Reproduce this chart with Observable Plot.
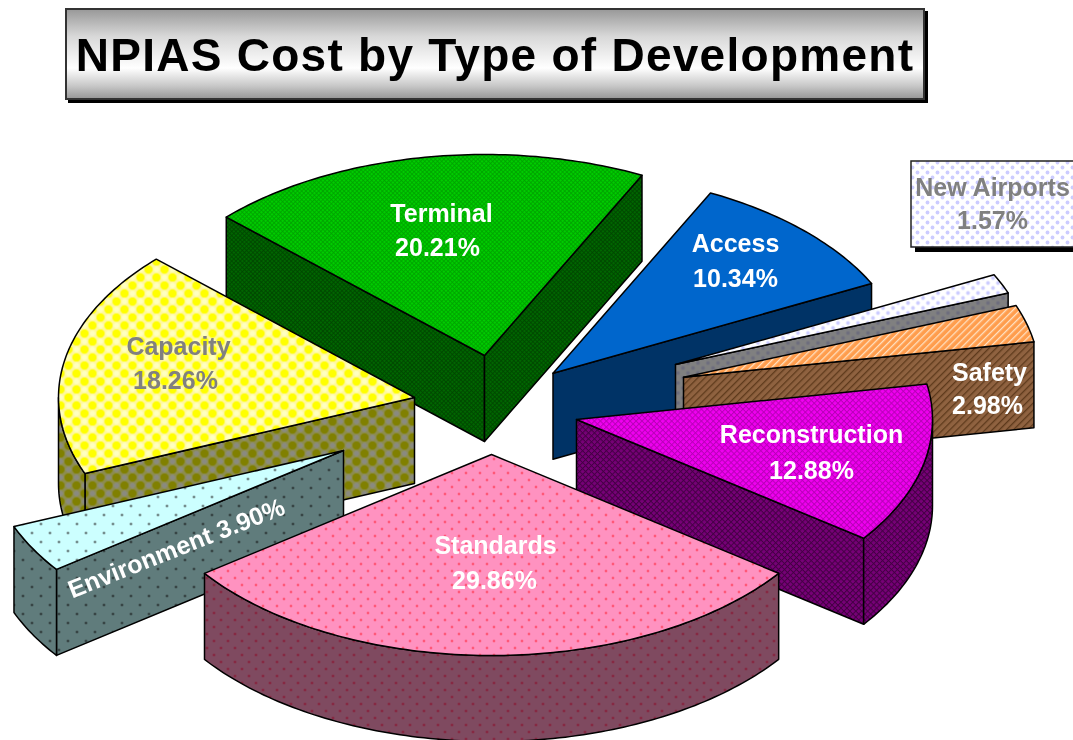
<!DOCTYPE html>
<html>
<head>
<meta charset="utf-8">
<script src="https://cdn.jsdelivr.net/npm/d3@7"></script>
<script src="https://cdn.jsdelivr.net/npm/@observablehq/plot@0.6"></script>
<style>
html,body{margin:0;padding:0;background:#fff;overflow:hidden}
#title{position:absolute;left:65px;top:8px;height:88px;border:2px solid #333;box-sizing:content-box;
 width:856px;background:linear-gradient(180deg,#9a9a9a 0%,#d8d8d8 30%,#ffffff 66%,#c8c8c8 86%,#9a9a9a 100%);
 box-shadow:3px 3px 0 #000;font:bold 46px "Liberation Sans",Arial,sans-serif;color:#000;text-align:center;line-height:90px;letter-spacing:1.27px;white-space:nowrap;filter:blur(.35px)}
#chart{position:absolute;left:0;top:105px;filter:blur(.35px)}
</style>
</head>
<body>
<div id="title">NPIAS Cost by Type of Development</div>
<div id="chart"></div>
<script>
// ---- data ----
const categories = ["Terminal","Access","New Airports","Safety","Reconstruction","Standards","Environment","Capacity"];
const percents   = [20.21,10.34,1.57,2.98,12.88,29.86,3.90,18.26];

// ---- layout ----
const startAngle = -46.5, rx = 356, ry = 201, depth = 86, pieX = 490, pieY = 400;
const explodeX = [-6,62.5,185,193,86,1,-147,-76];
const explodeY = [-45,-27.3,-36,-23.3,19,54,50,-3];
const topFills  = ["url(#pTerminal)","#0066cc","url(#pAirports)","url(#pSafety)","url(#pRecon)","url(#pStandards)","url(#pEnv)","url(#pCapacity)"];
const wallFills = ["url(#wTerminal)","#003366","url(#wAirports)","url(#wSafety)","url(#wRecon)","url(#wStandards)","url(#wEnv)","url(#wCapacity)"];
const paintOrder = [0,1,2,3,7,4,6,5];
const nameX = [441,735,992,989,811,495,176,178];
const nameY = [213,243,187,372,434,545,548,346];
const pctX  = [437,735,992,987,811,494,176,175];
const pctY  = [247,278,220,405,470,580,548,380];
const textColors = ["#fff","#fff","#808080","#fff","#fff","#fff","#fff","#808080"];
const airportsBox = {x1:911,x2:1080,y1:161,y2:247};

// ---- geometry from the values ----
const rad = d => d*Math.PI/180;
let cum = startAngle;
const slices = percents.map((p,i)=>{
  const a0 = cum, a1 = cum + p*3.6; cum = a1;
  return {i,a0,a1,ax:pieX+explodeX[i],ay:pieY+explodeY[i]};
});
const rim = (s,a,dz=0)=>({x:s.ax+rx*Math.sin(rad(a)),y:s.ay-ry*Math.cos(rad(a))+dz});
const arc = (s,a0,a1,dz=0)=>{
  const n=Math.max(2,Math.ceil(Math.abs(a1-a0)));
  return d3.range(n+1).map(k=>rim(s,a0+(a1-a0)*k/n,dz));
};
const close = pts=>[...pts,pts[0]];
function faces(s){
  const out=[], apex={x:s.ax,y:s.ay}, low={x:s.ax,y:s.ay+depth}, w=wallFills[s.i];
  const edge=a=>close([apex,rim(s,a),rim(s,a,depth),low]);
  if(Math.sin(rad(s.a0))<0) out.push({pts:edge(s.a0),fill:w});
  if(Math.sin(rad(s.a1))>0) out.push({pts:edge(s.a1),fill:w});
  const r0=Math.max(s.a0,90), r1=Math.min(s.a1,270);
  if(r1>r0) out.push({pts:close([...arc(s,r0,r1),...arc(s,r1,r0,depth)]),fill:w});
  out.push({pts:close([apex,...arc(s,s.a0,s.a1)]),fill:topFills[s.i]});
  return out;
}

// ---- patterns ----
const dots=(id,size,bg,fg,r)=>`<pattern id="${id}" width="${size}" height="${size}" patternUnits="userSpaceOnUse"><rect width="${size}" height="${size}" fill="${bg}"/><circle cx="${size/4}" cy="${size/4}" r="${r}" fill="${fg}"/><circle cx="${3*size/4}" cy="${3*size/4}" r="${r}" fill="${fg}"/></pattern>`;
const hatch=(id,size,bg,fg,w)=>`<pattern id="${id}" width="${size}" height="${size}" patternUnits="userSpaceOnUse" patternTransform="rotate(45)"><rect width="${size}" height="${size}" fill="${bg}"/><rect width="${w}" height="${size}" fill="${fg}"/></pattern>`;
const cross=(id,size,bg,fg,w)=>`<pattern id="${id}" width="${size}" height="${size}" patternUnits="userSpaceOnUse" patternTransform="rotate(45)"><rect width="${size}" height="${size}" fill="${bg}"/><rect width="${w}" height="${size}" fill="${fg}"/><rect width="${size}" height="${w}" fill="${fg}"/></pattern>`;
const defsHtml =
  cross("pTerminal",3,"#00cc00","#00a000",.8)+cross("wTerminal",3,"#006600","#004400",.8)+
  dots("pAirports",10,"#ffffff","#ccccff",1.9)+dots("wAirports",10,"#808080","#6e6e7e",1.9)+
  hatch("pSafety",5,"#ff9d4d","#ffe0c0",1.3)+hatch("wSafety",5,"#8f6240","#5e3a1c",1.3)+
  cross("pRecon",4.2,"#f000f0","#b800b8",1)+cross("wRecon",4.2,"#770077","#440044",1)+
  dots("pStandards",14,"#ff92c0","#ff1020",.9)+dots("wStandards",14,"#7f4a60","#8c0a28",1.1)+
  dots("pEnv",18,"#ccffff","#222222",1.1)+dots("wEnv",18,"#607c7c","#111111",1.1)+
  `<pattern id="pCapacity" width="16" height="16" patternUnits="userSpaceOnUse"><rect width="16" height="16" fill="#fff8a0"/><circle cx="4" cy="4" r="4.2" fill="#ffff00"/><circle cx="12" cy="12" r="4.2" fill="#ffff00"/><circle cx="4" cy="12" r="2.7" fill="#ffffc0"/><circle cx="12" cy="4" r="2.7" fill="#ffffc0"/></pattern>`+
  `<pattern id="wCapacity" width="16" height="16" patternUnits="userSpaceOnUse"><rect width="16" height="16" fill="#8c8c50"/><circle cx="4" cy="4" r="4.2" fill="#808000"/><circle cx="12" cy="12" r="4.2" fill="#808000"/><circle cx="4" cy="12" r="2.7" fill="#8a8a80"/><circle cx="12" cy="4" r="2.7" fill="#8a8a80"/></pattern>`;
const defsMark = () => { const g=document.createElementNS("http://www.w3.org/2000/svg","defs"); g.innerHTML=defsHtml; return g; };

// ---- marks ----
const faceMarks = paintOrder.flatMap(i=>faces(slices[i])).map(f=>
  Plot.line(f.pts,{x:"x",y:"y",fill:f.fill,stroke:"#000",strokeWidth:1.5,strokeLinejoin:"round"}));

const labels = categories.map((c,i)=>({name:c,pct:percents[i].toFixed(2)+"%",nx:nameX[i],ny:nameY[i],px:pctX[i],py:pctY[i],color:textColors[i]}));
const straight = labels.filter(d=>d.name!=="Environment");
const env = labels.filter(d=>d.name==="Environment");
const textStyle = {fontFamily:"Liberation Sans, Arial, sans-serif",fontWeight:"bold",fontSize:25,textAnchor:"middle",lineAnchor:"middle"};

const plot = Plot.plot({
  width:1073,height:635,margin:0,
  x:{domain:[0,1073],range:[0,1073],axis:null},
  y:{domain:[105,740],range:[0,635],axis:null},
  marks:[
    defsMark,
    ...faceMarks,
    Plot.rect([airportsBox],{x1:d=>d.x1+4,x2:d=>d.x2+4,y1:d=>d.y1+5,y2:d=>d.y2+5,fill:"#000"}),
    Plot.rect([airportsBox],{x1:"x1",x2:"x2",y1:"y1",y2:"y2",fill:"url(#pAirports)",stroke:"#222",strokeWidth:1.5}),
    Plot.text(straight,{x:"nx",y:"ny",text:"name",fill:"color",...textStyle}),
    Plot.text(straight,{x:"px",y:"py",text:"pct",fill:"color",...textStyle}),
    Plot.text(env,{x:"nx",y:"ny",text:d=>d.name+" "+d.pct,fill:"color",rotate:-21.6,...textStyle})
  ]
});
plot.style.background="transparent";
plot.style.display="block";
document.getElementById("chart").appendChild(plot);
</script>
</body>
</html>
